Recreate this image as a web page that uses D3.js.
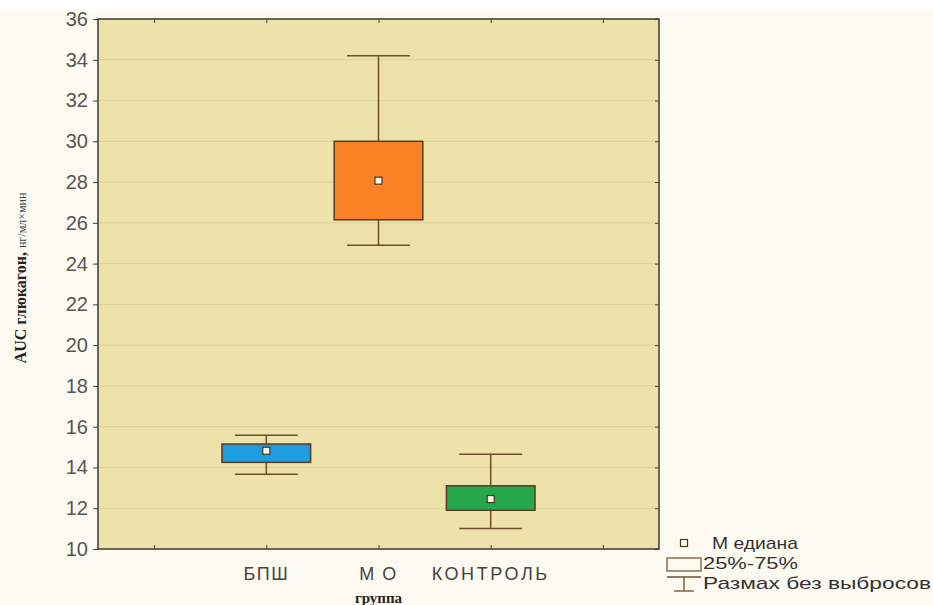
<!DOCTYPE html>
<html>
<head>
<meta charset="utf-8">
<script src="https://cdn.jsdelivr.net/npm/d3@7"></script>
<style>
  html, body { margin: 0; padding: 0; background: #fdfbf1; }
  svg { display: block; }
</style>
</head>
<body>
<svg id="chart" width="933" height="605"></svg>
<script>
// Group names and box-plot statistics (AUC)
const slots = ["s0", "БПШ", "М О", "КОНТРОЛЬ", "s4"];
const groups = ["БПШ", "М О", "КОНТРОЛЬ"];
const whiskerLow  = [13.67, 24.9, 11.0];
const quartile1   = [14.25, 26.15, 11.9];
const medians     = [14.82, 28.07, 12.45];
const quartile3   = [15.15, 30.0, 13.1];
const whiskerHigh = [15.58, 34.2, 14.65];
const boxColors   = ["#1e9ce2", "#fa8225", "#25a84b"];
const yTicks = [10, 12, 14, 16, 18, 20, 22, 24, 26, 28, 30, 32, 34, 36];
const legendLabels = ["М едиана", "25%-75%", "Размах без выбросов"];

const svg = d3.select("#chart");
const plot = { left: 98, right: 659, top: 19, bottom: 549 };

const x = d3.scalePoint().domain(slots).range([plot.left, plot.right]).padding(0.5);
const y = d3.scaleLinear().domain([10, 36]).range([plot.bottom, plot.top]);
const step = x.step();

// plot area
svg.append("rect")
  .attr("x", plot.left).attr("y", plot.top)
  .attr("width", plot.right - plot.left).attr("height", plot.bottom - plot.top)
  .attr("fill", "#ede2a9");

// horizontal grid
svg.append("g")
  .selectAll("line")
  .data(yTicks.filter(t => t > 10 && t < 36))
  .join("line")
  .attr("x1", plot.left).attr("x2", plot.right)
  .attr("y1", d => y(d)).attr("y2", d => y(d))
  .attr("stroke", "#d9cf9f").attr("stroke-width", 1);

// y axis (left, outward ticks)
const yAxis = svg.append("g")
  .attr("transform", `translate(${plot.left},0)`)
  .call(d3.axisLeft(y).tickValues(yTicks).tickSize(5).tickPadding(5).tickFormat(d3.format("d")));
yAxis.select(".domain").remove();
yAxis.selectAll(".tick line").attr("stroke", "#444");
yAxis.selectAll("text")
  .attr("font-family", "Liberation Sans, Arial, sans-serif")
  .attr("font-size", 20).attr("fill", "#555");

// right inner ticks
svg.append("g")
  .attr("transform", `translate(${plot.right},0)`)
  .call(d3.axisLeft(y).tickValues(yTicks).tickSize(4).tickFormat(""))
  .call(g => g.select(".domain").remove())
  .selectAll(".tick line").attr("stroke", "#444");

// x axis bottom (inner ticks) with labels
const xAxis = svg.append("g")
  .attr("transform", `translate(0,${plot.bottom})`)
  .call(d3.axisTop(x).tickSize(4).tickFormat(""));
xAxis.select(".domain").remove();
xAxis.selectAll(".tick line").attr("stroke", "#444");

svg.append("g")
  .selectAll("text")
  .data(groups)
  .join("text")
  .attr("x", d => x(d)).attr("y", 580)
  .attr("text-anchor", "middle")
  .attr("font-family", "Liberation Sans, Arial, sans-serif")
  .attr("font-size", 18).attr("letter-spacing", d => d.length > 4 ? 2.6 : 1.5).attr("fill", "#444")
  .text(d => d);

// x axis top (inner ticks)
svg.append("g")
  .attr("transform", `translate(0,${plot.top})`)
  .call(d3.axisBottom(x).tickSize(4).tickFormat(""))
  .call(g => g.select(".domain").remove())
  .selectAll(".tick line").attr("stroke", "#444");

// frame
svg.append("rect")
  .attr("x", plot.left).attr("y", plot.top)
  .attr("width", plot.right - plot.left).attr("height", plot.bottom - plot.top)
  .attr("fill", "none").attr("stroke", "#3d3a30").attr("stroke-width", 1.5);

// box plots
const boxW = step * 0.79;
const capW = step * 0.56;
const boxes = svg.append("g")
  .selectAll("g")
  .data(groups.map((g, i) => ({ g, i })))
  .join("g");

boxes.append("line")
  .attr("x1", d => x(d.g)).attr("x2", d => x(d.g))
  .attr("y1", d => y(whiskerHigh[d.i])).attr("y2", d => y(whiskerLow[d.i]))
  .attr("stroke", "#6e4c2c").attr("stroke-width", 1.5);
boxes.append("line")
  .attr("x1", d => x(d.g) - capW / 2).attr("x2", d => x(d.g) + capW / 2)
  .attr("y1", d => y(whiskerHigh[d.i])).attr("y2", d => y(whiskerHigh[d.i]))
  .attr("stroke", "#6e4c2c").attr("stroke-width", 1.5);
boxes.append("line")
  .attr("x1", d => x(d.g) - capW / 2).attr("x2", d => x(d.g) + capW / 2)
  .attr("y1", d => y(whiskerLow[d.i])).attr("y2", d => y(whiskerLow[d.i]))
  .attr("stroke", "#6e4c2c").attr("stroke-width", 1.5);
boxes.append("rect")
  .attr("x", d => x(d.g) - boxW / 2).attr("width", boxW)
  .attr("y", d => y(quartile3[d.i]))
  .attr("height", d => y(quartile1[d.i]) - y(quartile3[d.i]))
  .attr("fill", d => boxColors[d.i])
  .attr("stroke", "#5a3a20").attr("stroke-width", 1.5);
boxes.append("rect")
  .attr("x", d => x(d.g) - 3.5).attr("y", d => y(medians[d.i]) - 3.5)
  .attr("width", 7).attr("height", 7)
  .attr("fill", "#fffbea").attr("stroke", "#4a3520").attr("stroke-width", 1.2);

// y axis title
const yTitle = svg.append("text")
  .attr("transform", "translate(26,278) rotate(-90)")
  .attr("text-anchor", "middle")
  .attr("font-family", "Liberation Serif, Times New Roman, serif")
  .attr("fill", "#222");
yTitle.append("tspan").attr("font-size", 16).attr("font-weight", "bold").text("AUC глюкагон, ");
yTitle.append("tspan").attr("font-size", 12).attr("fill", "#444").text("нг/мл×мин");

// x axis title
svg.append("text")
  .attr("x", (plot.left + plot.right) / 2).attr("y", 603)
  .attr("text-anchor", "middle")
  .attr("font-family", "Liberation Serif, Times New Roman, serif")
  .attr("font-weight", "bold").attr("font-size", 15).attr("fill", "#222")
  .text("группа");

// legend
const lg = svg.append("g");
const lx = 684;
lg.append("rect").attr("x", lx - 3.5).attr("y", 539.5).attr("width", 7).attr("height", 7)
  .attr("fill", "#fffbea").attr("stroke", "#4a3520").attr("stroke-width", 1.2);
lg.append("rect").attr("x", lx - 17).attr("y", 558).attr("width", 34).attr("height", 13)
  .attr("fill", "#fdfbf1").attr("stroke", "#6e4c2c").attr("stroke-width", 1.2);
lg.append("line").attr("x1", lx - 17).attr("x2", lx + 17).attr("y1", 577).attr("y2", 577)
  .attr("stroke", "#6e4c2c").attr("stroke-width", 1.3);
lg.append("line").attr("x1", lx).attr("x2", lx).attr("y1", 577).attr("y2", 591)
  .attr("stroke", "#6e4c2c").attr("stroke-width", 1.3);
lg.append("line").attr("x1", lx - 10).attr("x2", lx + 10).attr("y1", 591).attr("y2", 591)
  .attr("stroke", "#6e4c2c").attr("stroke-width", 1.3);
lg.selectAll("text.leg")
  .data(legendLabels)
  .join("text")
  .attr("class", "leg")
  .attr("x", (d, i) => i === 0 ? 712 : 703)
  .attr("y", (d, i) => [549, 569, 589][i])
  .attr("font-family", "Liberation Sans, Arial, sans-serif")
  .attr("font-size", 17).attr("fill", "#333")
  .attr("textLength", (d, i) => [86, 95, 228][i]).attr("lengthAdjust", "spacingAndGlyphs")
  .text(d => d);

// blank band along the top edge
svg.append("rect").attr("x", 0).attr("y", 0).attr("width", 933).attr("height", 10).attr("fill", "#ffffff");
</script>
</body>
</html>
